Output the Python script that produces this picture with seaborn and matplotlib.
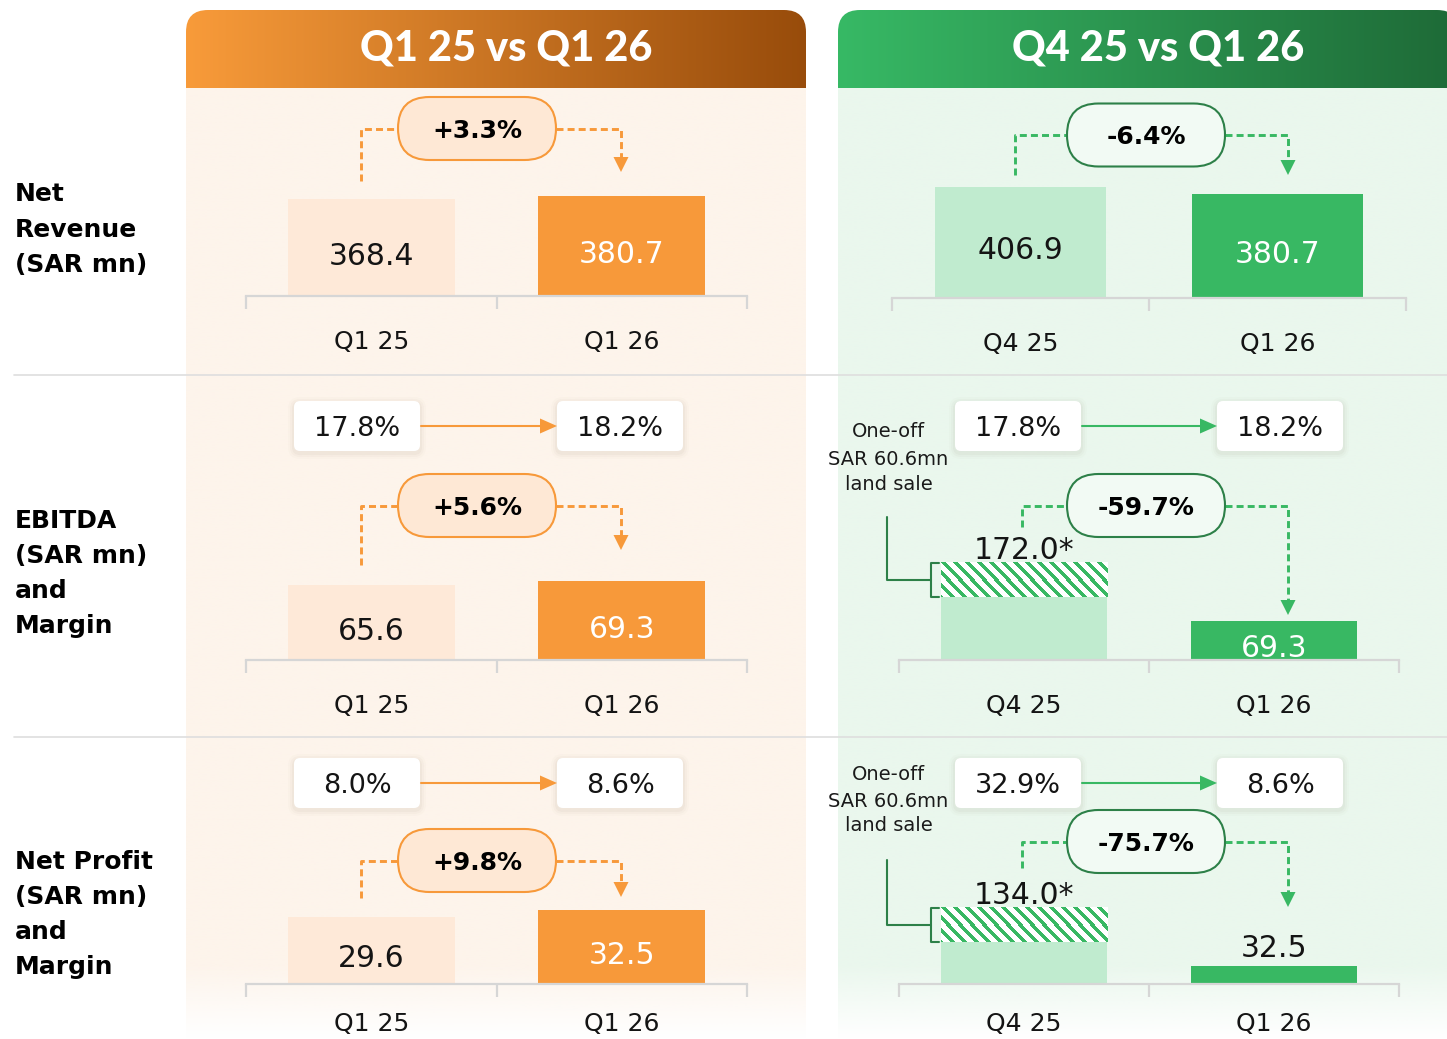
import numpy as np
import pandas as pd
import matplotlib
matplotlib.use("Agg")
import matplotlib.pyplot as plt
import matplotlib.colors as mcolors
from matplotlib.patches import FancyBboxPatch, Polygon
import seaborn as sns

# ---------------- data ----------------
yoy_periods = ["Q1 25", "Q1 26"]
qoq_periods = ["Q4 25", "Q1 26"]
panel_titles = ["Q1 25 vs Q1 26", "Q4 25 vs Q1 26"]

revenue_yoy = [368.4, 380.7]
revenue_qoq = [406.9, 380.7]
ebitda_yoy = [65.6, 69.3]
ebitda_qoq = [172.0, 69.3]
profit_yoy = [29.6, 32.5]
profit_qoq = [134.0, 32.5]
land_sale_qoq = 60.6          # one-off included in Q4 25 EBITDA and net profit

ebitda_margin_yoy = [17.8, 18.2]
ebitda_margin_qoq = [17.8, 18.2]
profit_margin_yoy = [8.0, 8.6]
profit_margin_qoq = [32.9, 8.6]

revenue_change = [3.3, -6.4]
ebitda_change = [5.6, -59.7]
profit_change = [9.8, -75.7]

# The new Saudi riyal sign (U+20C1) has no glyph in the installed fonts,
# so the currency is written as "SAR".
unit_label = "(SAR mn)"
land_label = f"SAR {land_sale_qoq:.1f}mn"

row_labels = [["Net", "Revenue", unit_label],
              ["EBITDA", unit_label, "and", "Margin"],
              ["Net Profit", unit_label, "and", "Margin"]]
note_lines = ["One-off", land_label, "land sale"]

sns.set_style("white")
plt.rcParams["font.family"] = ["DejaVu Sans"]
TITLE_FAMILY = ["Lato", "DejaVu Sans"]

# ---------------- colours ----------------
ORANGE = "#F7993A"
ORANGE_LIGHT = "#FEE9D8"
ORANGE_BG = "#FDF4EB"
ORANGE_PILL = "#FEE8D5"
GREEN = "#38B863"
GREEN_LIGHT = "#C0EBCF"
GREEN_BG = "#EAF7ED"
GREEN_DARK = "#2D8048"
GREEN_PILL = "#F2FAF4"
GREY = "#D6D6D6"
INK = "#141414"

W, H = 1447, 1039
fig = plt.figure(figsize=(W / 100, H / 100), dpi=100)
fig.patch.set_facecolor("white")

bg = fig.add_axes([0, 0, 1, 1], zorder=0)
fg = fig.add_axes([0, 0, 1, 1], zorder=5)
for a in (bg, fg):
    a.set_xlim(0, W)
    a.set_ylim(H, 0)
    a.axis("off")


def reset(a):
    a.set_xlim(0, W)
    a.set_ylim(H, 0)


# ---------------- panel backgrounds ----------------
def body(x0, x1, y0, y1, color, fade_from):
    n = 400
    ys = np.linspace(y0, y1, n)
    rgba = np.zeros((n, 1, 4))
    rgba[..., :3] = mcolors.to_rgb(color)
    rgba[:, 0, 3] = np.clip((y1 - ys) / (y1 - fade_from), 0, 1)
    bg.imshow(rgba, extent=(x0, x1, y1, y0), origin="upper", aspect="auto",
              interpolation="bilinear", zorder=1)


def header(x0, x1, c0, c1, title, tx):
    clip = FancyBboxPatch((x0, 10), x1 - x0, 140,
                          boxstyle="round,pad=0,rounding_size=22",
                          facecolor="none", edgecolor="none", transform=bg.transData)
    bg.add_patch(clip)
    t = np.linspace(0, 1, 400)[:, None]
    img = (1 - t) * np.array(mcolors.to_rgb(c0)) + t * np.array(mcolors.to_rgb(c1))
    im = bg.imshow(img[None, :, :], extent=(x0, x1, 88, 10), origin="upper",
                   aspect="auto", interpolation="bilinear", zorder=2)
    im.set_clip_path(clip)
    bg.text(tx, 61, title, color="white", fontsize=30, fontweight=900,
            family=TITLE_FAMILY, ha="center", va="baseline", zorder=3)


body(186, 806, 88, H, ORANGE_BG, 965)
body(838, W, 88, H, GREEN_BG, 965)
header(186, 806, "#F89B3A", "#984C0B", panel_titles[0], 506)
header(838, W + 12, "#37B965", "#1E6A37", panel_titles[1], 1158)
reset(bg)

for ysep in (375, 737):
    bg.plot([14, W], [ysep, ysep], color="#DEDEDE", lw=1.2, zorder=4)

# row labels
row_baselines = [[201, 237, 272], [528, 563, 598, 633], [869, 904, 939, 974]]
for lines, bls in zip(row_labels, row_baselines):
    for txt, yb in zip(lines, bls):
        bg.text(15, yb, txt, fontsize=18, fontweight="bold", color="black",
                ha="left", va="baseline", zorder=4)


# ---------------- bar panels ----------------
BAR_W = 0.667


def bar_axes(x0, x1, top, base):
    ax = fig.add_axes([x0 / W, 1 - base / H, (x1 - x0) / W, (base - top) / H], zorder=3)
    ax.patch.set_alpha(0)
    return ax


def style(ax, cats, ymax, pad):
    ax.set_xlim(-0.5, 1.5)
    ax.set_ylim(0, ymax)
    for s in ("left", "right", "top"):
        ax.spines[s].set_visible(False)
    ax.spines["bottom"].set_color(GREY)
    ax.spines["bottom"].set_linewidth(1.6)
    ax.set_yticks([])
    ax.set_xticks([0, 1])
    ax.set_xticklabels(cats)
    ax.set_xticks([-0.5, 0.5, 1.5], minor=True)
    ax.tick_params(axis="x", which="major", bottom=True, length=0, pad=pad,
                   labelsize=18, labelcolor=INK)
    ax.tick_params(axis="x", which="minor", bottom=True, length=9, width=1.6,
                   color=GREY, direction="out")
    ax.set_xlabel("")
    ax.set_ylabel("")


def bars(ax, cats, vals, colors):
    df = pd.DataFrame({"period": cats, "value": vals})
    sns.barplot(data=df, x="period", y="value", hue="period", order=cats,
                hue_order=cats, palette=colors, saturation=1, width=BAR_W,
                linewidth=0, errorbar=None, legend=False, ax=ax)


def value_label(ax, i, v, text, color, mode, off):
    if mode == "in":
        ax.annotate(text, xy=(i, v / 2), xytext=(0, -17), textcoords="offset pixels",
                    ha="center", va="baseline", fontsize=21.5, color=color, zorder=6)
    else:
        ax.annotate(text, xy=(i, v), xytext=(0, off), textcoords="offset pixels",
                    ha="center", va="baseline", fontsize=21.5, color=color, zorder=6)


def to_fg(disp_xy):
    return fg.transData.inverted().transform(disp_xy)


def simple_panel(x0, x1, top, base, ymax, cats, vals, light, dark, pad=24.5):
    ax = bar_axes(x0, x1, top, base)
    bars(ax, cats, vals, [light, dark])
    style(ax, cats, ymax, pad)
    value_label(ax, 0, vals[0], f"{vals[0]:.1f}", INK, "in", 0)
    value_label(ax, 1, vals[1], f"{vals[1]:.1f}", "white", "in", 0)
    return ax


def oneoff_panel(x0, x1, top, base, ymax, cats, vals, label2_mode, label2_off,
                 note_top, pad=24.5):
    ax = bar_axes(x0, x1, top, base)
    bars(ax, cats, vals, ["white", GREEN])
    core = pd.DataFrame({"period": [cats[0]], "value": [vals[0] - land_sale_qoq]})
    sns.barplot(data=core, x="period", y="value", order=cats, color=GREEN_LIGHT,
                saturation=1, width=BAR_W, linewidth=0, errorbar=None, ax=ax)
    style(ax, cats, ymax, pad)
    value_label(ax, 0, vals[0], f"{vals[0]:.1f}*", INK, "above", 4)
    value_label(ax, 1, vals[1], f"{vals[1]:.1f}",
                "white" if label2_mode == "in" else INK, label2_mode, label2_off)

    # striped fill of the one-off part of the first bar
    hatched = ax.containers[0].patches[0]
    core_patch = ax.containers[-1].patches[0]
    bb = hatched.get_window_extent()
    cb = core_patch.get_window_extent()
    (lx, ty) = to_fg((bb.x0, bb.y1))
    (rx, by) = to_fg((bb.x1, cb.y1))
    w = int(round(rx - lx))
    h = int(round(by - ty))
    cols = np.arange(w)[None, :]
    rows = np.arange(h)[:, None]
    mask = ((cols - rows) % 12) < 4.5
    img = np.ones((h, w, 3))
    img[mask] = mcolors.to_rgb(GREEN)
    fg.imshow(img, extent=(lx, rx, by, ty), origin="upper", aspect="auto",
              interpolation="nearest", zorder=2)

    # bracket + leader + note
    bx = lx - 10
    ym = (ty + by) / 2
    fg.plot([lx - 2, bx, bx, lx - 2], [ty, ty, by, by], color=GREEN_DARK, lw=1.5, zorder=3)
    fg.plot([bx, lx - 54, lx - 54], [ym, ym, note_top], color=GREEN_DARK, lw=1.5, zorder=3)
    return ax, lx


# row 1
simple_panel(246, 747, 88, 296, 791.9, yoy_periods, revenue_yoy, ORANGE_LIGHT, ORANGE)
simple_panel(892, 1406, 88, 298, 769.8, qoq_periods, revenue_qoq, GREEN_LIGHT, GREEN)
# row 2
simple_panel(246, 747, 378, 660, 247.4, yoy_periods, ebitda_yoy, ORANGE_LIGHT, ORANGE)
ax_e, lx_e = oneoff_panel(899, 1399, 378, 660, 500.0, qoq_periods, ebitda_qoq, "in", 0, 517)
# row 3 (labels a little closer to the axis so they stay inside the picture)
simple_panel(246, 747, 740, 984, 107.2, yoy_periods, profit_yoy, ORANGE_LIGHT, ORANGE,
             pad=20.5)
ax_p, lx_p = oneoff_panel(899, 1399, 740, 984, 430.2, qoq_periods, profit_qoq, "above", 9,
                          860, pad=20.5)
reset(fg)

# notes
for lx, bls in ((lx_e, [437, 465, 490]), (lx_p, [780, 807, 831])):
    for txt, yb in zip(note_lines, bls):
        fg.text(lx - 52, yb, txt, fontsize=14, color="#1a1a1a", ha="center",
                va="baseline", zorder=4)


# ---------------- change pills & connectors ----------------
def pill(px0, px1, cy, h, text, fc, ec):
    fg.add_patch(FancyBboxPatch((px0, cy - h / 2), px1 - px0, h,
                                boxstyle=f"round,pad=0,rounding_size={h / 2}",
                                facecolor=fc, edgecolor=ec, lw=1.5, zorder=6))
    fg.text((px0 + px1) / 2, cy + 9.5, text, fontsize=18, fontweight="bold",
            color="black", ha="center", va="baseline", zorder=7)


def connector(px0, px1, cy, lx, lbot, rx, rtip, color):
    kw = dict(color=color, lw=2.1, dashes=(2.4, 1.4), dash_capstyle="butt", zorder=5)
    fg.plot([lx, lx, px0], [lbot, cy, cy], **kw)
    fg.plot([px1, rx, rx], [cy, cy, rtip - 14], **kw)
    fg.add_patch(Polygon([[rx - 7.5, rtip - 15], [rx + 7.5, rtip - 15], [rx, rtip]],
                         closed=True, facecolor=color, edgecolor="none", zorder=5))


def change_text(v):
    return f"{v:+.1f}%"


pill_specs = [
    # (px0, px1, cy, lx, lbot, rx, rtip, value, side)
    (398, 556, 128.5, 361, 181, 621, 172, revenue_change[0], 0),
    (1067, 1225, 135, 1015, 175, 1288, 175, revenue_change[1], 1),
    (398, 556, 505.5, 361, 565, 621, 550, ebitda_change[0], 0),
    (1067, 1225, 505.5, 1022, 527, 1288, 615, ebitda_change[1], 1),
    (398, 556, 860.5, 361, 898, 621, 897, profit_change[0], 0),
    (1067, 1225, 841.5, 1022, 868, 1288, 907, profit_change[1], 1),
]
for px0, px1, cy, lx, lbot, rx, rtip, val, side in pill_specs:
    color = ORANGE if side == 0 else GREEN
    connector(px0, px1, cy, lx, lbot, rx, rtip, color)
    if side == 0:
        pill(px0, px1, cy, 63, change_text(val), ORANGE_PILL, ORANGE)
    else:
        pill(px0, px1, cy, 63, change_text(val), GREEN_PILL, GREEN_DARK)


# ---------------- margin boxes ----------------
def margin_box(x0, x1, cy, text):
    for k, a in ((6, 0.025), (4, 0.035), (2, 0.05)):
        fg.add_patch(FancyBboxPatch((x0 - k, cy - 25 - k + 2), x1 - x0 + 2 * k, 50 + 2 * k,
                                    boxstyle=f"round,pad=0,rounding_size={6 + k}",
                                    facecolor="#8a7a60", edgecolor="none", alpha=a, zorder=5))
    fg.add_patch(FancyBboxPatch((x0, cy - 25), x1 - x0, 50,
                                boxstyle="round,pad=0,rounding_size=6",
                                facecolor="white", edgecolor="none", zorder=6))
    fg.text((x0 + x1) / 2, cy + 10, text, fontsize=19.5, color=INK, ha="center",
            va="baseline", zorder=7)


def margin_row(xa, xb, cy, vals, color):
    margin_box(xa, xa + 126, cy, f"{vals[0]:.1f}%")
    margin_box(xb, xb + 126, cy, f"{vals[1]:.1f}%")
    x_start = xa + 127
    x_end = xb
    fg.plot([x_start, x_end - 15], [cy, cy], color=color, lw=1.5, zorder=6)
    fg.add_patch(Polygon([[x_end - 17, cy - 7.5], [x_end - 17, cy + 7.5], [x_end, cy]],
                         closed=True, facecolor=color, edgecolor="none", zorder=6))


margin_row(294, 557, 426, ebitda_margin_yoy, ORANGE)
margin_row(955, 1217, 426, ebitda_margin_qoq, GREEN)
margin_row(294, 557, 783, profit_margin_yoy, ORANGE)
margin_row(955, 1217, 783, profit_margin_qoq, GREEN)

reset(fg)
reset(bg)
fig.savefig("out.png", dpi=100, facecolor="white")
